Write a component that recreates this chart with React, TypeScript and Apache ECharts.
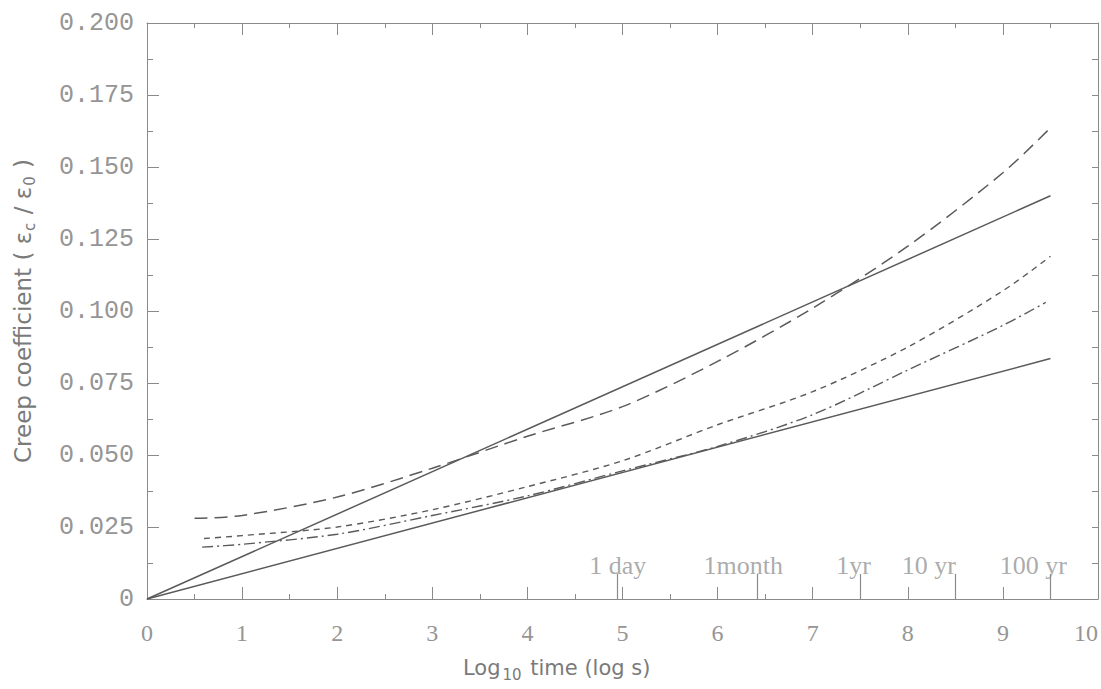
import React, { useEffect, useRef } from "react";
import * as echarts from "echarts";

// ---- data ----
const fitX = [0, 9.5];
const steepFit = [0, 0.14];
const shallowFit = [0, 0.0835];

const longDashX = [0.5, 1, 2, 3, 4, 5, 6, 7, 8, 9, 9.5];
const longDashY = [0.028, 0.029, 0.0354, 0.0454, 0.0565, 0.0668, 0.0825, 0.101, 0.1225, 0.148, 0.1636];

const shortDashX = [0.6, 1, 2, 3, 4, 5, 6, 7, 8, 9, 9.5];
const shortDashY = [0.021, 0.022, 0.025, 0.031, 0.039, 0.048, 0.0605, 0.072, 0.0875, 0.107, 0.119];

const dashDotX = [0.58, 1, 2, 3, 4, 5, 6, 7, 8, 9, 9.45];
const dashDotY = [0.018, 0.019, 0.0225, 0.029, 0.0358, 0.0445, 0.053, 0.064, 0.0795, 0.095, 0.103];

// time markers: log10 of seconds
const timeTicks = [4.94, 6.42, 7.5, 8.5, 9.5];
const timeNames = ["1 day", "1month", "1yr", "10 yr", "100 yr"];
const timeLabelX = [4.95, 6.27, 7.43, 8.22, 9.32];
const timeLabelY = 0.0115;

const zip = (xs: number[], ys: number[]) => xs.map((x, i) => [x, ys[i]]);

const LINE = "#5a5a5a";
const AXIS = "#8a8a8a";
const LABEL = "#959595";
const TITLE = "#7a7a7a";

export default function App() {
  const ref = useRef<HTMLDivElement>(null);

  useEffect(() => {
    if (!ref.current) return;
    const chart = echarts.init(ref.current, null, { renderer: "svg" });

    const baseX = {
      type: "value",
      min: 0,
      max: 10,
      interval: 1,
      splitLine: { show: false },
      axisLine: { show: true, onZero: false, lineStyle: { color: AXIS, width: 1 } },
      axisTick: { show: true, inside: true, length: 12, lineStyle: { color: AXIS } },
      minorTick: { show: true, splitNumber: 2, length: 5, lineStyle: { color: AXIS } },
      minorSplitLine: { show: false },
    };

    const option: any = {
      animation: false,
      backgroundColor: "#fff",
      grid: { left: 147, right: 3, top: 23, bottom: 90, containLabel: false, outerBoundsMode: "none" },
      title: {
        text: "{n|Log}{s|10}{n| time (log s)}",
        left: 458,
        top: 648,
        textStyle: {
          fontWeight: "normal",
          rich: {
            n: { fontFamily: "DejaVu Sans", fontSize: 21, fontWeight: "normal", color: TITLE },
            s: { fontFamily: "DejaVu Sans", fontSize: 15, fontWeight: "normal", color: TITLE, padding: [14, 2, 0, 2] },
          },
        },
      },
      xAxis: [
        {
          ...baseX,
          position: "bottom",
          axisLabel: {
            show: true,
            margin: 22,
            fontFamily: "Liberation Serif",
            fontSize: 24,
            color: LABEL,
            alignMaxLabel: "right",
          },
        },
        {
          ...baseX,
          position: "top",
          axisLabel: { show: false },
        },
      ],
      yAxis: [
        {
          type: "value",
          min: 0,
          max: 0.2,
          interval: 0.025,
          position: "left",
          splitLine: { show: false },
          axisLine: { show: true, onZero: false, lineStyle: { color: AXIS, width: 1 } },
          axisTick: { show: true, inside: true, length: 12, lineStyle: { color: AXIS } },
          minorTick: { show: true, splitNumber: 2, length: 6, lineStyle: { color: AXIS } },
          axisLabel: {
            margin: 13,
            fontFamily: "Liberation Mono",
            fontSize: 25,
            color: LABEL,
            formatter: (v: number) => (v === 0 ? "0" : v.toFixed(3)),
          },
          name: "Creep coefficient ( ε{s|c} / ε{s|0} )",
          nameLocation: "middle",
          nameGap: 110,
          nameTextStyle: {
            fontFamily: "DejaVu Sans",
            fontSize: 23,
            color: TITLE,
            rich: {
              s: { fontFamily: "DejaVu Sans", fontSize: 15, color: TITLE, padding: [13, 1, 0, 1] },
            },
          },
        },
        {
          type: "value",
          min: 0,
          max: 0.2,
          interval: 0.0125,
          position: "right",
          splitLine: { show: false },
          axisLine: { show: true, onZero: false, lineStyle: { color: AXIS, width: 1 } },
          axisTick: { show: true, inside: true, length: 6, lineStyle: { color: AXIS } },
          axisLabel: { show: false },
        },
      ],
      series: [
        {
          type: "line",
          data: zip(fitX, steepFit),
          showSymbol: false,
          lineStyle: { color: LINE, width: 1.5 },
        },
        {
          type: "line",
          data: zip(fitX, shallowFit),
          showSymbol: false,
          lineStyle: { color: LINE, width: 1.5 },
        },
        {
          type: "line",
          data: zip(longDashX, longDashY),
          showSymbol: false,
          smooth: 0.3,
          lineStyle: { color: LINE, width: 1.5, type: [13, 7] },
        },
        {
          type: "line",
          data: zip(shortDashX, shortDashY),
          showSymbol: false,
          smooth: 0.3,
          lineStyle: { color: LINE, width: 1.4, type: [6, 5] },
        },
        {
          type: "line",
          data: zip(dashDotX, dashDotY),
          showSymbol: false,
          smooth: 0.3,
          lineStyle: { color: LINE, width: 1.4, type: [11, 4, 2, 4] },
        },
        {
          type: "scatter",
          data: zip(timeLabelX, timeLabelX.map(() => timeLabelY)),
          symbolSize: 1,
          itemStyle: { color: "rgba(0,0,0,0)" },
          silent: true,
          label: {
            show: true,
            position: "inside",
            fontFamily: "Liberation Serif",
            fontSize: 26,
            color: LABEL,
            formatter: (p: any) => timeNames[p.dataIndex],
          },
          markLine: {
            silent: true,
            symbol: "none",
            label: { show: false },
            lineStyle: { color: AXIS, width: 1.2, type: "solid" },
            data: timeTicks.map((v) => [{ coord: [v, 0] }, { coord: [v, 0.0087] }]),
          },
        },
      ],
    };

    chart.setOption(option);
    return () => chart.dispose();
  }, []);

  return (
    <div
      ref={ref}
      style={{ position: "fixed", left: 0, top: 0, width: 1101, height: 689, background: "#fff" }}
    />
  );
}
